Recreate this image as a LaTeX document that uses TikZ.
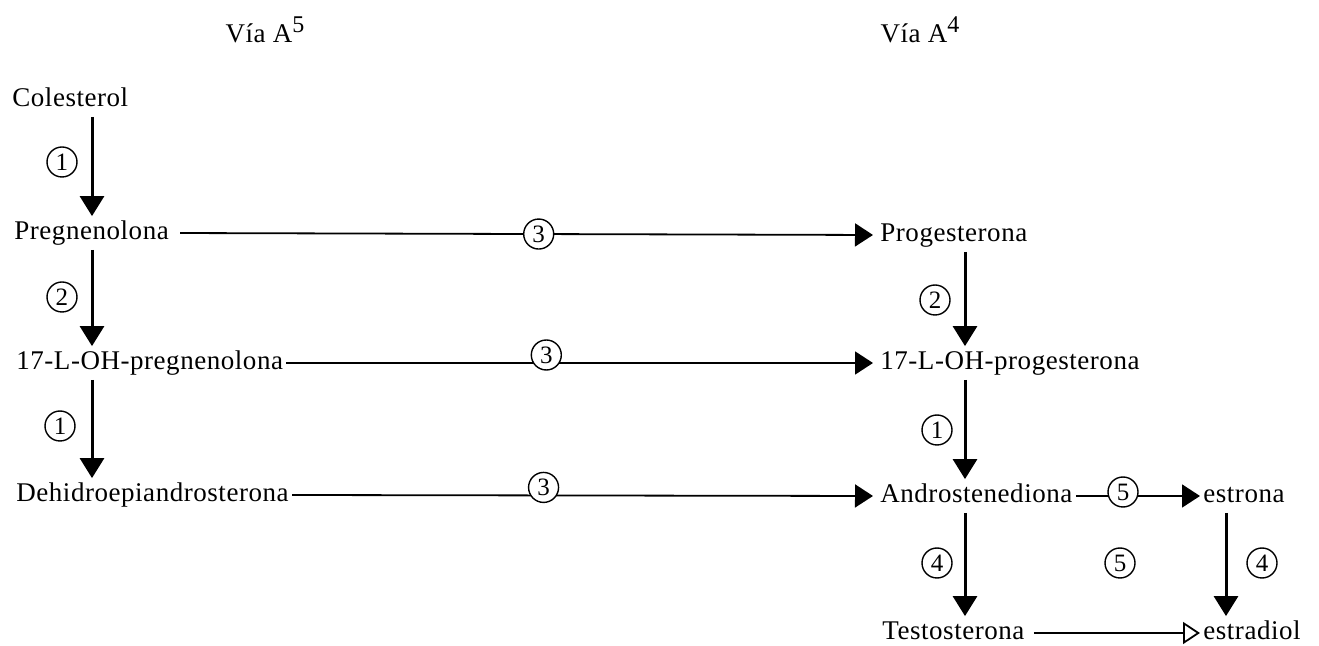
\documentclass[tikz,border=0pt]{standalone}
\usepackage{fontspec}
\setmainfont{Liberation Serif}[LetterSpace=2]
\usetikzlibrary{arrows.meta}
\begin{document}
\begin{tikzpicture}[x=0.5pt,y=-0.5pt,
  lbl/.style={anchor=west,inner xsep=1.5pt,inner ysep=2pt,text height=9.5pt,text depth=3pt,font=\fontsize{13.5}{16}\selectfont},
  numc/.style={circle,draw,line width=0.7pt,fill=white,minimum size=15pt,inner sep=0pt,font=\fontsize{12.5}{13}\selectfont},
  varrow/.style={line width=1.5pt,-{Triangle[length=10pt,width=12pt]}},
  harrow/.style={line width=0.9pt,-{Triangle[length=9pt,width=11.5pt]}},
  oarrow/.style={line width=0.9pt,-{Triangle[open,length=8.5pt,width=11pt,line width=0.9pt]}}
]
\useasboundingbox (0,0) rectangle (1319,646);
% headings
\node[font=\fontsize{13.5}{16}\selectfont] (viaA5) at (265,30) {Vía A\raisebox{5pt}{\fontsize{12}{12}\selectfont 5}};
\node[font=\fontsize{13.5}{16}\selectfont] (viaA4) at (920,30) {Vía A\raisebox{5pt}{\fontsize{12}{12}\selectfont 4}};
% column coordinates
\coordinate (colL) at (92,0);
\coordinate (colR) at (965,0);
\coordinate (colE) at (1226,0);
% left column
\node[lbl] (col) at (9,100) {Colesterol};
\node[lbl] (preg) at (11,233) {Pregnenolona};
\node[lbl] (ohpreg) at (13,363) {17-L-OH-pregnenolona};
\node[lbl] (dhea) at (13,495) {Dehidroepiandrosterona};
% right column
\node[lbl] (prog) at (877,235) {Progesterona};
\node[lbl] (ohprog) at (877,363) {17-L-OH-progesterona};
\node[lbl] (andro) at (877,496) {Androstenediona};
\node[lbl] (estrona) at (1200,496) {estrona};
\node[lbl] (testo) at (879,633) {Testosterona};
\node[lbl] (estradiol) at (1200,633) {estradiol};
% vertical arrows left
\draw[varrow] (col.south -| colL) -- (preg.north -| colL);
\draw[varrow] (preg.south -| colL) -- (ohpreg.north -| colL);
\draw[varrow] (ohpreg.south -| colL) -- (dhea.north -| colL);
\node[numc] (n1a) at (62,162) {1};
\node[numc] (n2a) at (62,297) {2};
\node[numc] (n1b) at (60,426) {1};
% vertical arrows right
\draw[varrow] (prog.south -| colR) -- (ohprog.north -| colR);
\draw[varrow] (ohprog.south -| colR) -- (andro.north -| colR);
\draw[varrow] (andro.south -| colR) -- (testo.north -| colR);
\draw[varrow] (estrona.south -| colE) -- (estradiol.north -| colE);
\node[numc] (n2b) at (935,300) {2};
\node[numc] (n1c) at (937,430) {1};
\node[numc] (n4a) at (937,563) {4};
\node[numc] (n5b) at (1120,563) {5};
\node[numc] (n4b) at (1262,563) {4};
% horizontal arrows
\draw[harrow,shorten <=4pt,shorten >=2pt] (preg.east) -- (prog.west) node[numc,pos=0.52] (n3a) {3};
\draw[harrow,shorten >=2pt] (ohpreg.east) -- (ohprog.west) node[numc,pos=0.44,yshift=4pt] (n3b) {3};
\draw[harrow,shorten >=2pt] (dhea.east) -- (andro.west) node[numc,pos=0.43,yshift=4pt] (n3c) {3};
\draw[harrow] (andro.east) -- (estrona.west) node[numc,pos=0.38,yshift=2pt] (n5a) {5};
\draw[oarrow,shorten <=3pt] (testo.east) -- (estradiol.west);
\end{tikzpicture}
\end{document}
